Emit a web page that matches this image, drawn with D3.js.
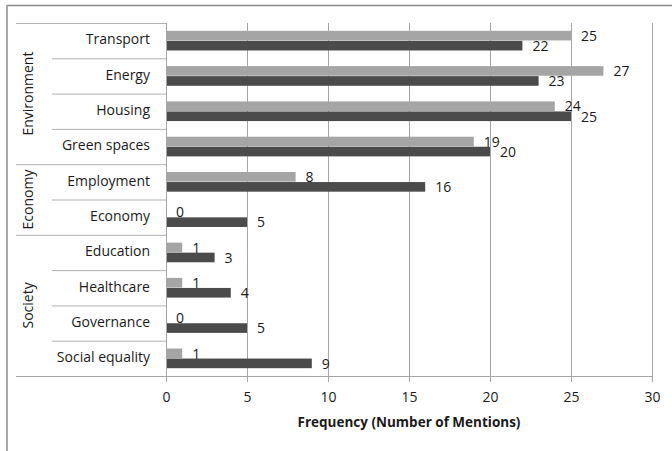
<!DOCTYPE html>
<html><head><meta charset="utf-8">
<script src="https://cdn.jsdelivr.net/npm/d3@7"></script>
<style>body{margin:0;background:#fff}svg{display:block}</style>
</head><body><svg id="c" width="672" height="451"></svg>
<script>
const categories = ["Transport","Energy","Housing","Green spaces","Employment","Economy","Education","Healthcare","Governance","Social equality"];
const groups = [
  {name:"Environment", members:["Transport","Energy","Housing","Green spaces"]},
  {name:"Economy", members:["Employment","Economy"]},
  {name:"Society", members:["Education","Healthcare","Governance","Social equality"]}
];
const seriesLight = [25,27,24,19,8,0,1,1,0,1];
const seriesDark = [22,23,25,20,16,5,3,4,5,9];
const xTicks = [0,5,10,15,20,25,30];
const xTitle = "Frequency (Number of Mentions)";

const svg = d3.select("#c");
const font = "'Open Sans', sans-serif";
const txt = "#1a1a1a";
const L = 166, R = 652, T = 23, B = 376;
const x = d3.scaleLinear().domain([0,30]).range([L,R]);
const y = d3.scaleBand().domain(categories).range([T,B]);
const inner = d3.scaleBand().domain(["light","dark"]).range([0,y.bandwidth()]).paddingOuter(0.78).paddingInner(0.04);

// outer border
svg.append("line").attr("x1",7).attr("x2",672).attr("y1",5.5).attr("y2",5.5).attr("stroke","#8c8c8c").attr("stroke-width",1.5);
svg.append("line").attr("x1",7).attr("x2",7).attr("y1",5).attr("y2",451).attr("stroke","#8c8c8c").attr("stroke-width",1.5);

// gridlines + ticks
const xAxis = d3.axisBottom(x).tickValues(xTicks).tickSize(-(B-T)).tickPadding(0).tickSizeOuter(0);
const ax = svg.append("g").attr("transform",`translate(0,${B})`).call(xAxis);
ax.select(".domain").remove();
ax.selectAll(".tick line").attr("stroke","#a6a6a6").attr("y1",6);
ax.selectAll(".tick text").attr("font-family",font).attr("font-size",14).attr("fill",txt)
  .attr("y",22).attr("dy",null).attr("dominant-baseline","middle");

// horizontal axis line (also bottom separator)
svg.append("line").attr("x1",16).attr("x2",R).attr("y1",B+0.5).attr("y2",B+0.5).attr("stroke","#a6a6a6");

// label-area separators
const groupStarts = new Set(groups.map(g=>g.members[0]));
categories.forEach(c=>{
  const yy = y(c)+0.5;
  svg.append("line").attr("x1",groupStarts.has(c)?16:52).attr("x2",L).attr("y1",yy).attr("y2",yy).attr("stroke","#b0b0b0");
});

// bars
const g = svg.append("g");
g.selectAll("rect.light").data(categories).join("rect")
  .attr("x",x(0)).attr("y",(d)=>y(d)+inner("light"))
  .attr("width",(d,i)=>x(seriesLight[i])-x(0)).attr("height",inner.bandwidth())
  .attr("fill","#a5a5a5");
g.selectAll("rect.dark").data(categories).join("rect")
  .attr("x",x(0)).attr("y",(d)=>y(d)+inner("dark"))
  .attr("width",(d,i)=>x(seriesDark[i])-x(0)).attr("height",inner.bandwidth())
  .attr("fill","#4b4b4b");

// value labels
categories.forEach((c,i)=>{
  [["light",seriesLight[i]],["dark",seriesDark[i]]].forEach(([k,v])=>{
    svg.append("text").attr("x",x(v)+10).attr("y",y(c)+inner(k)+inner.bandwidth()/2+1.5)
      .attr("dominant-baseline","middle").attr("font-family",font).attr("font-size",14).attr("fill",txt).text(v);
  });
});

// vertical axis line at 0
svg.append("line").attr("x1",L+0.5).attr("x2",L+0.5).attr("y1",T).attr("y2",B+6).attr("stroke","#a6a6a6");

// category labels
svg.selectAll("text.cat").data(categories).join("text")
  .attr("x",150).attr("y",d=>y(d)+y.bandwidth()/2).attr("text-anchor","end").attr("dominant-baseline","middle")
  .attr("font-family",font).attr("font-size",14).attr("fill",txt).text(d=>d);

// group labels
groups.forEach(gr=>{
  const y0 = y(gr.members[0]), y1 = y(gr.members[gr.members.length-1])+y.bandwidth();
  const cy = (y0+y1)/2;
  svg.append("text").attr("transform",`translate(29,${cy}) rotate(-90)`).attr("text-anchor","middle").attr("dominant-baseline","middle")
    .attr("font-family",font).attr("font-size",14).attr("fill",txt).text(gr.name);
});

// axis title
svg.append("text").attr("x",(L+R)/2).attr("y",423).attr("text-anchor","middle").attr("dominant-baseline","middle")
  .attr("font-family",font).attr("font-size",13.5).attr("font-weight","bold").attr("fill",txt).text(xTitle);
</script></body></html>
